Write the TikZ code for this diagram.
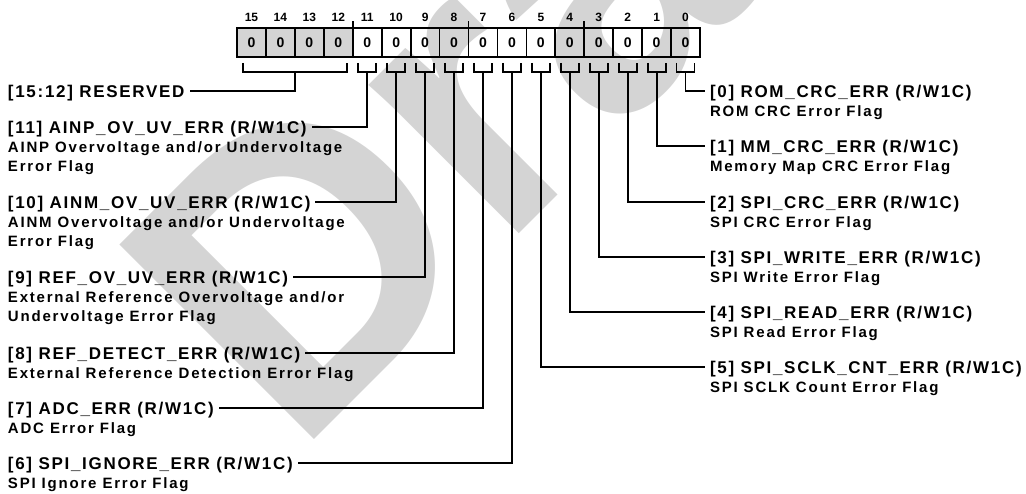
\documentclass[tikz,border=0pt]{standalone}
\usepackage{fontspec}
\setmainfont{Liberation Sans}
\newfontfamily\tfont{Liberation Sans}[LetterSpace=10]
\newfontfamily\dfont{Liberation Sans}[LetterSpace=12]
\definecolor{wmgray}{RGB}{212,212,212}
\begin{document}
\begin{tikzpicture}[x=1pt,y=-1pt,
  every node/.style={inner sep=0pt, outer sep=0pt},
  ln/.style={line width=1.8pt},
  cell/.style={draw, line width=1.8pt, minimum width=28.94pt, minimum height=29pt, font=\fontsize{14}{14}\selectfont\bfseries},
  bitnum/.style={font=\fontsize{12}{12}\selectfont\bfseries},
  ttl/.style={font=\fontsize{17}{17}\tfont\bfseries, text height=14.2pt, text depth=2.0pt, inner xsep=5pt, anchor=west},
  dsc/.style={font=\fontsize{15}{19}\dfont\bfseries, align=left, inner xsep=5pt, anchor=north west},
  wm/.style={text=wmgray, font=\fontsize{400}{400}\selectfont\bfseries}
]
\useasboundingbox (0,0) rectangle (1026,494);
\begin{scope}
  \clip (0,0) rectangle (1026,494);
  \node[wm, anchor=base west, rotate=45] (draft) at (295,458) {Draft};
\end{scope}
% register cells
\foreach \i in {12,...,15} {
  \pgfmathsetmacro\cx{237+(15-\i)*28.94+14.47}
  \node[cell, fill=wmgray] (c\i) at (\cx,42.5) {0};
  \node[bitnum] (n\i) at (\cx,17) {\i};
}
\foreach \i in {0,...,11} {
  \pgfmathsetmacro\cx{237+(15-\i)*28.94+14.47}
  \node[cell] (c\i) at (\cx,42.5) {0};
  \node[bitnum] (n\i) at (\cx,17) {\i};
}
% ticks above separators
\foreach \i in {12,8,4} { \draw[ln] (c\i.north east) -- ++(0,-7); }
% brackets
\foreach \i in {0,...,11} {
  \draw[ln] ([xshift=-9pt,yshift=-6pt]c\i.south) -- ([xshift=-9pt,yshift=-15pt]c\i.south)
            -- ([xshift=9pt,yshift=-15pt]c\i.south) -- ([xshift=9pt,yshift=-6pt]c\i.south);
  \coordinate (b\i) at ([yshift=-15pt]c\i.south);
}
\draw[ln] ([xshift=6pt,yshift=-6pt]c15.south west) -- ([xshift=6pt,yshift=-15pt]c15.south west)
          -- ([xshift=-6pt,yshift=-15pt]c12.south east) -- ([xshift=-6pt,yshift=-6pt]c12.south east);
\coordinate (br) at (294.9,72);

% left labels
\node[ttl] (t15) at (3,91) {[15:12] RESERVED};
\node[ttl] (t11) at (3,127) {[11] AINP\_OV\_UV\_ERR (R/W1C)};
\node[dsc] (d11) at ([yshift=-7pt]t11.south west) {AINP Overvoltage and/or Undervoltage\\Error Flag};
\node[ttl] (t10) at (3,202) {[10] AINM\_OV\_UV\_ERR (R/W1C)};
\node[dsc] (d10) at ([yshift=-7pt]t10.south west) {AINM Overvoltage and/or Undervoltage\\Error Flag};
\node[ttl] (t9) at (3,277) {[9] REF\_OV\_UV\_ERR (R/W1C)};
\node[dsc] (d9) at ([yshift=-7pt]t9.south west) {External Reference Overvoltage and/or\\Undervoltage Error Flag};
\node[ttl] (t8) at (3,353) {[8] REF\_DETECT\_ERR (R/W1C)};
\node[dsc] (d8) at ([yshift=-7pt]t8.south west) {External Reference Detection Error Flag};
\node[ttl] (t7) at (3,408) {[7] ADC\_ERR (R/W1C)};
\node[dsc] (d7) at ([yshift=-7pt]t7.south west) {ADC Error Flag};
\node[ttl] (t6) at (3,463) {[6] SPI\_IGNORE\_ERR (R/W1C)};
\node[dsc] (d6) at ([yshift=-7pt]t6.south west) {SPI Ignore Error Flag};

% right labels
\node[ttl] (t0) at (705,91) {[0] ROM\_CRC\_ERR (R/W1C)};
\node[dsc] (d0) at ([yshift=-7pt]t0.south west) {ROM CRC Error Flag};
\node[ttl] (t1) at (705,146) {[1] MM\_CRC\_ERR (R/W1C)};
\node[dsc] (d1) at ([yshift=-7pt]t1.south west) {Memory Map CRC Error Flag};
\node[ttl] (t2) at (705,202) {[2] SPI\_CRC\_ERR (R/W1C)};
\node[dsc] (d2) at ([yshift=-7pt]t2.south west) {SPI CRC Error Flag};
\node[ttl] (t3) at (705,257) {[3] SPI\_WRITE\_ERR (R/W1C)};
\node[dsc] (d3) at ([yshift=-7pt]t3.south west) {SPI Write Error Flag};
\node[ttl] (t4) at (705,312) {[4] SPI\_READ\_ERR (R/W1C)};
\node[dsc] (d4) at ([yshift=-7pt]t4.south west) {SPI Read Error Flag};
\node[ttl] (t5) at (705,367) {[5] SPI\_SCLK\_CNT\_ERR (R/W1C)};
\node[dsc] (d5) at ([yshift=-7pt]t5.south west) {SPI SCLK Count Error Flag};

% connectors
\draw[ln] (br) |- (t15.east);
\foreach \i in {11,10,9,8,7,6} { \draw[ln] (b\i) |- (t\i.east); }
\foreach \i in {0,...,5} { \draw[ln] (b\i) |- (t\i.west); }
\end{tikzpicture}
\end{document}
